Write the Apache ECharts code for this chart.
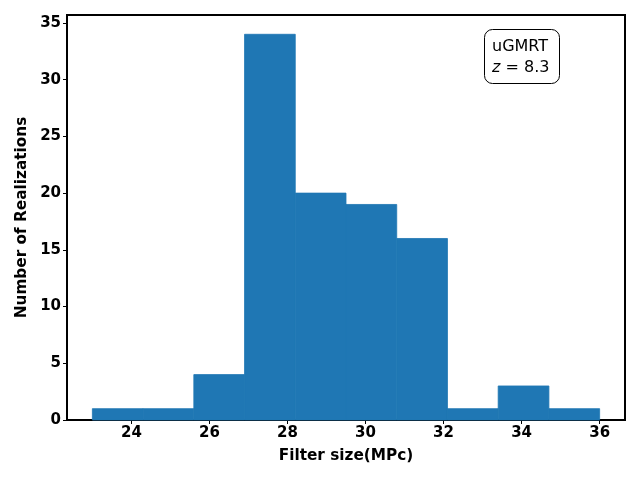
<!DOCTYPE html>
<html>
<head>
<meta charset="utf-8">
<script src="https://cdn.jsdelivr.net/npm/echarts@6/dist/echarts.min.js"></script>
<style>
html, body { margin: 0; padding: 0; background: #fff; }
#chart { width: 640px; height: 480px; }
</style>
</head>
<body>
<div id="chart"></div>
<script>
// histogram bins (left edges) and counts
const binStarts = [23.0, 24.3, 25.6, 26.9, 28.2, 29.5, 30.8, 32.1, 33.4, 34.7];
const binEnds   = [24.3, 25.6, 26.9, 28.2, 29.5, 30.8, 32.1, 33.4, 34.7, 36.0];
const counts    = [1, 1, 4, 34, 20, 19, 16, 1, 3, 1];
const xTicks = [24, 26, 28, 30, 32, 34, 36];
const yTicks = [0, 5, 10, 15, 20, 25, 30, 35];

const chart = echarts.init(document.getElementById('chart'));
const font = 'DejaVu Sans';

const data = counts.map((c, i) => [binStarts[i], binEnds[i], c]);

const option = {
    animation: false,
    grid: {
        left: 67, right: 15, top: 15, bottom: 60,
        show: true, borderColor: '#000', borderWidth: 2, backgroundColor: 'transparent'
    },
    xAxis: {
        type: 'value',
        min: 22.35, max: 36.65,
        name: 'Filter size(MPc)',
        nameLocation: 'middle',
        nameGap: 29,
        nameTextStyle: { fontFamily: font, fontWeight: 'bold', fontSize: 15.3, color: '#000' },
        splitLine: { show: false },
        axisLine: { show: true, lineStyle: { color: '#000', width: 2 } },
        axisTick: { show: true, inside: false, length: 4, lineStyle: { color: '#000', width: 1 }, customValues: xTicks },
        axisLabel: { customValues: xTicks, fontFamily: font, fontWeight: 'bold', fontSize: 15, color: '#000', margin: 6 }
    },
    yAxis: {
        type: 'value',
        min: 0, max: 35.7,
        name: 'Number of Realizations',
        nameLocation: 'middle',
        nameGap: 37,
        nameTextStyle: { fontFamily: font, fontWeight: 'bold', fontSize: 15.3, color: '#000' },
        splitLine: { show: false },
        axisLine: { show: true, lineStyle: { color: '#000', width: 2 } },
        axisTick: { show: true, inside: false, length: 4, lineStyle: { color: '#000', width: 1 }, customValues: yTicks },
        axisLabel: { customValues: yTicks, fontFamily: font, fontWeight: 'bold', fontSize: 15, color: '#000', margin: 6 }
    },
    series: [{
        type: 'custom',
        data: data,
        renderItem: function (params, api) {
            const p0 = api.coord([api.value(0), 0]);
            const p1 = api.coord([api.value(1), api.value(2)]);
            return {
                type: 'rect',
                shape: { x: p0[0], y: p1[1], width: p1[0] - p0[0], height: p0[1] - p1[1] },
                style: { fill: '#1f77b4', stroke: '#1f77b4', lineWidth: 0.8 }
            };
        },
        encode: { x: [0, 1], y: 2 }
    }],
    graphic: [{
        type: 'rect',
        left: 484, top: 29,
        shape: { width: 75, height: 54, r: 8 },
        style: { fill: '#fff', stroke: '#000', lineWidth: 1 },
        z: 100
    }, {
        type: 'text',
        left: 492, top: 36,
        style: {
            text: 'uGMRT\n{i|z} = 8.3',
            fontFamily: font, fontSize: 16, fill: '#000', lineHeight: 21,
            rich: { i: { fontFamily: font, fontStyle: 'italic', fontSize: 16 } }
        },
        z: 101
    }]
};
chart.setOption(option);
</script>
</body>
</html>
